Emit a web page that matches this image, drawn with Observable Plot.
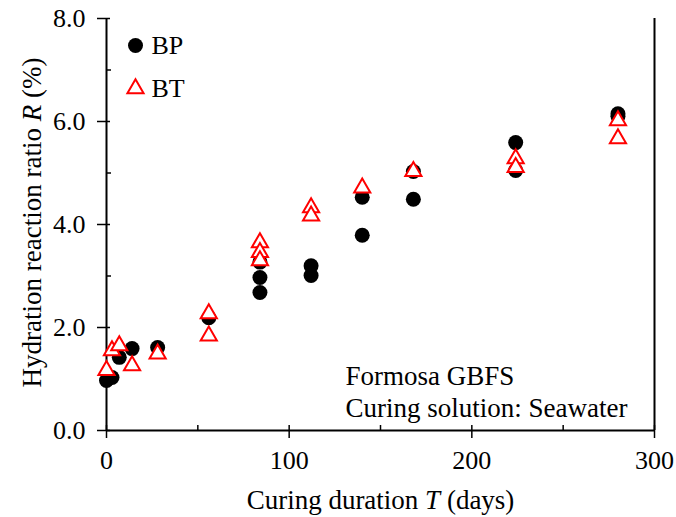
<!DOCTYPE html>
<html>
<head>
<meta charset="utf-8">
<script src="https://cdn.jsdelivr.net/npm/d3@7"></script>
<script src="https://cdn.jsdelivr.net/npm/@observablehq/plot@0.6"></script>
<style>
  html, body { margin: 0; padding: 0; background: #fff; }
  #chart svg { display: block; }
</style>
</head>
<body>
<div id="chart"></div>
<script>
// Data
const bpDays = [0, 3, 7, 14, 28, 56, 84, 84, 84, 112, 112, 140, 140, 168, 168, 224, 224, 280, 280];
const bpR    = [0.97, 1.03, 1.42, 1.59, 1.61, 2.19, 2.68, 2.97, 3.27, 3.01, 3.20, 3.79, 4.53, 4.49, 5.03, 5.59, 5.05, 6.15, 6.10];
const btDays = [0, 3, 7, 14, 28, 56, 56, 84, 84, 84, 112, 112, 140, 168, 224, 224, 280, 280];
const btR    = [1.17, 1.55, 1.65, 1.26, 1.49, 2.27, 1.84, 3.65, 3.46, 3.30, 4.33, 4.17, 4.71, 5.03, 5.28, 5.11, 6.02, 5.67];
const xMajor = [0, 100, 200, 300];
const xMinor = [50, 150, 250];
const yMajor = [0, 2, 4, 6, 8];
const yMinor = [1, 3, 5, 7];
const seriesNames = ["BP", "BT"];
const xLabel = "Curing duration T (days)";
const yLabel = "Hydration reaction ratio R (%)";
const notes = ["Formosa GBFS", "Curing solution: Seawater"];

const bp = bpDays.map((d, i) => ({d, r: bpR[i]}));
const bt = btDays.map((d, i) => ({d, r: btR[i]}));

const W = 676, H = 517, mL = 106, mR = 22, mT = 18, mB = 87;
const pW = W - mL - mR, pH = H - mT - mB;
const red = "#FF0000";

const svg = Plot.plot({
  width: W, height: H,
  marginLeft: mL, marginRight: mR, marginTop: mT, marginBottom: mB,
  style: {fontFamily: "'Liberation Serif', 'Times New Roman', serif", fontSize: "26px", background: "#fff", color: "#000", overflow: "visible"},
  x: {domain: [0, 300]},
  y: {domain: [0, 8]},
  marks: [
    // tick labels
    Plot.axisX(xMajor, {tickSize: 0, tickPadding: 20, label: null, fontSize: 26, fill: "#000"}),
    Plot.axisY(yMajor, {tickSize: 0, tickPadding: 21, tickFormat: d3.format(".1f"), label: null, fontSize: 26, fill: "#000"}),
    // tick marks
    Plot.tickY(yMajor, {y: d => d, dx: -9, insetRight: pW - 13, stroke: "#000", strokeWidth: 1.5}),
    Plot.tickY(yMinor, {y: d => d, insetRight: pW - 5, stroke: "#000", strokeWidth: 1.5}),
    Plot.tickX(xMajor, {x: d => d, dy: 8, insetTop: pH - 13, stroke: "#000", strokeWidth: 1.5}),
    Plot.tickX(xMinor, {x: d => d, insetTop: pH - 5, stroke: "#000", strokeWidth: 1.5}),
    // spines
    Plot.ruleX([0], {stroke: "#000", strokeWidth: 2}),
    Plot.ruleX([300], {stroke: "#000", strokeWidth: 2}),
    Plot.ruleY([0], {stroke: "#000", strokeWidth: 2}),
    // data
    Plot.dot(bp, {x: "d", y: "r", r: 7.5, fill: "#000", symbol: "circle"}),
    Plot.dot(bt, {x: "d", y: "r", r: 6, symbol: "triangle", fill: "#fff", stroke: red, strokeWidth: 2}),
    // legend
    Plot.dot([seriesNames[0]], {frameAnchor: "top-left", dx: 29, dy: 27, r: 7.5, fill: "#000", symbol: "circle"}),
    Plot.dot([seriesNames[1]], {frameAnchor: "top-left", dx: 29, dy: 70, r: 6, symbol: "triangle", fill: "#fff", stroke: red, strokeWidth: 2}),
    Plot.text([seriesNames[0]], {text: d => d, frameAnchor: "top-left", dx: 45, dy: 27, textAnchor: "start", lineAnchor: "middle", fontSize: 26, fill: "#000"}),
    Plot.text([seriesNames[1]], {text: d => d, frameAnchor: "top-left", dx: 45, dy: 70, textAnchor: "start", lineAnchor: "middle", fontSize: 26, fill: "#000"}),
    // annotation
    Plot.text([notes.join("\n")], {text: d => d, frameAnchor: "bottom-left", dx: 239, dy: -14, textAnchor: "start", lineAnchor: "bottom", lineHeight: 1.15, fontSize: 27, fill: "#000"}),
    // axis titles
    Plot.text([xLabel], {text: d => d, frameAnchor: "bottom", dy: 78, textAnchor: "middle", lineAnchor: "bottom", fontSize: 27, fill: "#000", className: "xlab"}),
    Plot.text([yLabel], {text: d => d, frameAnchor: "left", dx: -74, dy: -2, rotate: -90, textAnchor: "middle", lineAnchor: "middle", fontSize: 27, fill: "#000", className: "ylab"})
  ]
});

// italic variable letters
function italicize(sel, letter) {
  svg.querySelectorAll(sel + " text").forEach(t => {
    const s = t.textContent;
    const i = s.indexOf(" " + letter + " ");
    if (i < 0) return;
    t.textContent = "";
    const ns = "http://www.w3.org/2000/svg";
    const a = document.createElementNS(ns, "tspan"); a.textContent = s.slice(0, i + 1);
    const b = document.createElementNS(ns, "tspan"); b.textContent = letter; b.setAttribute("font-style", "italic");
    const c = document.createElementNS(ns, "tspan"); c.textContent = s.slice(i + 2);
    t.append(a, b, c);
  });
}
italicize(".xlab", "T");
italicize(".ylab", "R");

document.getElementById("chart").appendChild(svg);
</script>
</body>
</html>
